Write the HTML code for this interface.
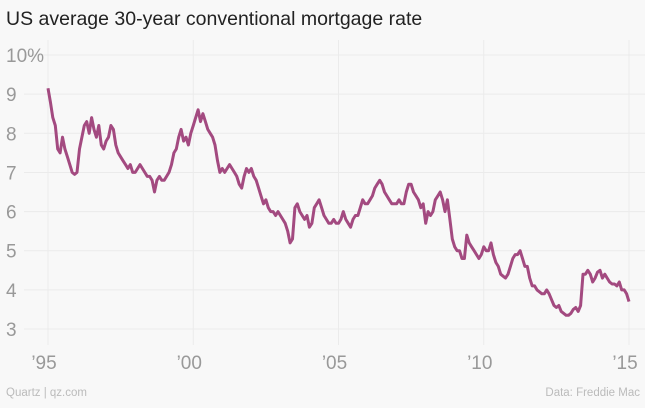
<!DOCTYPE html>
<html><head><meta charset="utf-8"><style>
body{margin:0;background:#f8f8f8;font-family:"Liberation Sans",sans-serif;}
</style></head><body>
<svg width="645" height="403" xmlns="http://www.w3.org/2000/svg">
<rect width="645" height="403" fill="#f8f8f8"/>
<text x="6" y="25" font-size="19.5" fill="#222">US average 30-year conventional mortgage rate</text>
<g id="grid"></g>
<g id="axes"></g>
<path id="line" fill="none" stroke="#a34a80" stroke-width="3" stroke-linejoin="round"/>
<text x="6" y="396" font-size="11.5" fill="#bbb">Quartz | qz.com</text>
<text x="640" y="396" font-size="11.5" fill="#bbb" text-anchor="end">Data: Freddie Mac</text>
</svg>
<script>
const yTicks=[3,4,5,6,7,8,9,10];
const yTickLabels=["3","4","5","6","7","8","9","10%"];
const xTicks=[1995,2000,2005,2010,2015];
const xTickLabels=["’95","’00","’05","’10","’15"];
const startYear=1995;
const rates=[
9.15,8.8,8.4,8.2,7.6,7.5,7.9,7.6,7.4,7.2,7.0,6.95,
7.0,7.6,7.9,8.2,8.3,8.0,8.4,8.1,7.9,8.2,7.7,7.6,
7.8,7.9,8.2,8.1,7.7,7.5,7.4,7.3,7.2,7.1,7.2,7.0,
7.0,7.1,7.2,7.1,7.0,6.9,6.9,6.8,6.5,6.8,6.9,6.8,
6.8,6.9,7.0,7.2,7.5,7.6,7.9,8.1,7.8,7.9,7.7,8.0,
8.2,8.4,8.6,8.3,8.5,8.3,8.1,8.0,7.9,7.7,7.3,7.0,
7.1,7.0,7.1,7.2,7.1,7.0,6.9,6.7,6.6,6.9,7.1,7.0,
7.1,6.9,6.8,6.6,6.4,6.2,6.3,6.1,6.0,6.0,5.9,6.0,
5.9,5.8,5.7,5.5,5.2,5.3,6.1,6.2,6.0,5.9,5.8,5.9,
5.6,5.7,6.1,6.2,6.3,6.1,5.9,5.8,5.7,5.7,5.8,5.7,
5.7,5.8,6.0,5.8,5.7,5.6,5.8,5.9,5.9,6.1,6.3,6.2,
6.2,6.3,6.4,6.6,6.7,6.8,6.7,6.5,6.4,6.3,6.2,6.2,
6.2,6.3,6.2,6.2,6.5,6.7,6.7,6.5,6.4,6.3,6.1,6.2,
5.7,6.0,5.9,6.0,6.3,6.4,6.5,6.3,6.0,6.3,5.8,5.3,
5.1,5.0,5.0,4.8,4.8,5.4,5.2,5.1,5.0,4.9,4.8,4.9,
5.1,5.0,5.0,5.2,4.9,4.7,4.6,4.4,4.35,4.3,4.4,4.6,
4.8,4.9,4.9,5.0,4.8,4.6,4.6,4.3,4.1,4.1,4.0,3.95,
3.9,3.9,4.0,3.9,3.75,3.6,3.55,3.6,3.45,3.4,3.35,3.35,
3.4,3.5,3.55,3.45,3.6,4.4,4.4,4.5,4.4,4.2,4.3,4.45,
4.5,4.3,4.4,4.3,4.2,4.15,4.15,4.1,4.2,4.0,4.0,3.9,3.7];
const x=t=>48+(t-1995)*29.05;
const y=v=>329-(v-3)*39.14;
const NS="http://www.w3.org/2000/svg";
const grid=document.getElementById('grid'),axes=document.getElementById('axes');
yTicks.forEach((v,i)=>{
 const l=document.createElementNS(NS,'line');
 
 
 l.setAttribute('x1',24);l.setAttribute('x2',645);l.setAttribute('y1',y(v));l.setAttribute('y2',y(v));
 l.setAttribute('stroke','#ebebeb');l.setAttribute('stroke-width',1);grid.appendChild(l);
 const t=document.createElementNS(NS,'text');
 
 
 t.setAttribute('x',6);t.setAttribute('y',y(v)+7);t.setAttribute('font-size',19);t.setAttribute('fill','#999');
 t.textContent=yTickLabels[i];axes.appendChild(t);
});
xTicks.forEach((v,i)=>{
 const l=document.createElementNS(NS,'line');
 
 
 l.setAttribute('x1',x(v));l.setAttribute('x2',x(v));l.setAttribute('y1',40);l.setAttribute('y2',345);
 l.setAttribute('stroke','#ebebeb');l.setAttribute('stroke-width',1);grid.appendChild(l);
 const t=document.createElementNS(NS,'text');
 
 
 t.setAttribute('x',x(v)-4);t.setAttribute('y',369);t.setAttribute('font-size',19);t.setAttribute('fill','#999');
 t.setAttribute('text-anchor','middle');
 t.textContent=xTickLabels[i];axes.appendChild(t);
});
document.getElementById('line').setAttribute('d',rates.map((v,i)=>(i?'L':'M')+x(startYear+i/12).toFixed(1)+','+y(v).toFixed(1)).join(''));
</script>
</body></html>
